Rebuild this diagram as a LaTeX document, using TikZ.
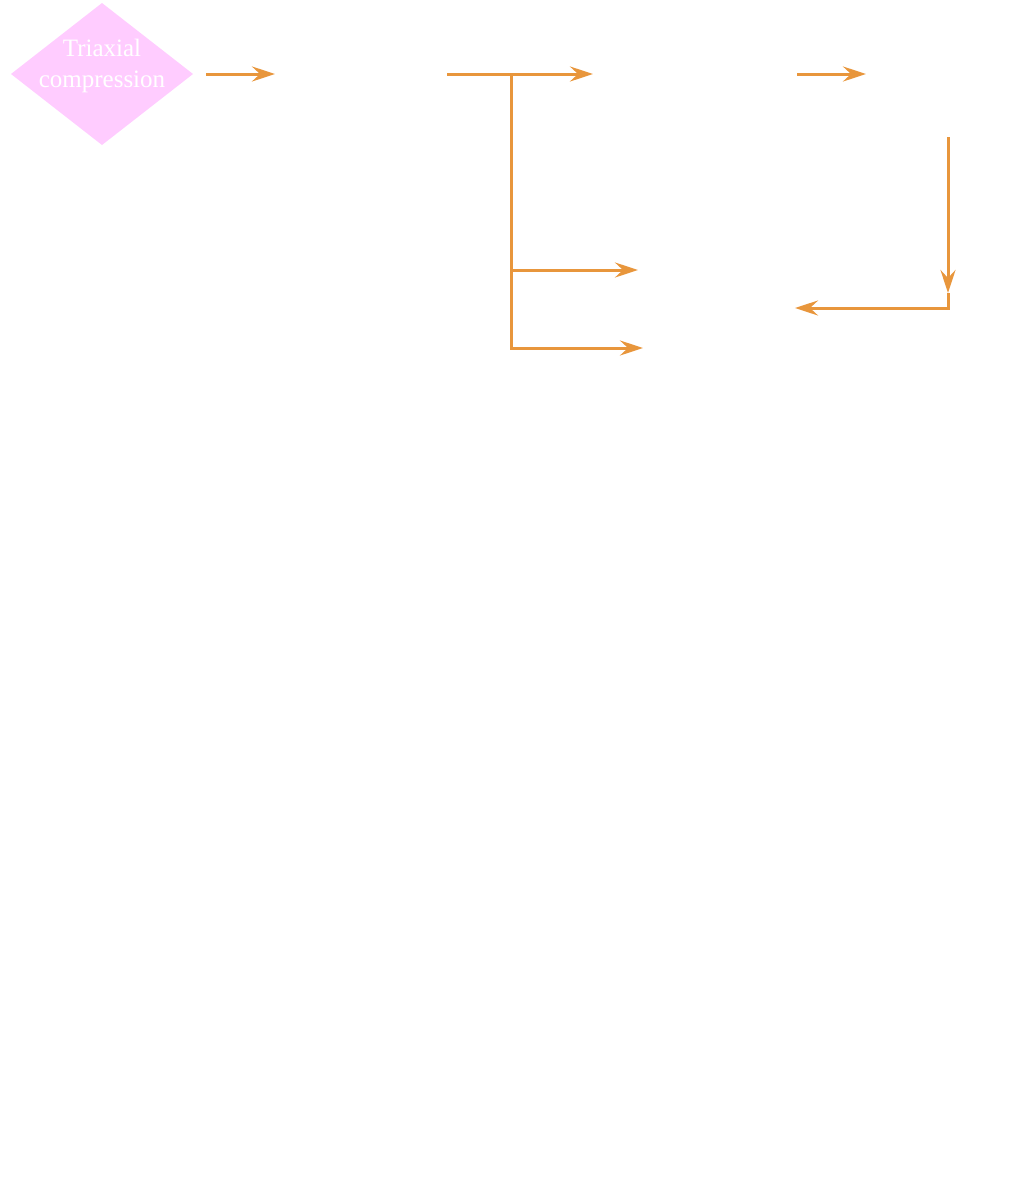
\documentclass[tikz,border=0pt]{standalone}
\usepackage{fontspec}
\setmainfont{Liberation Serif}
\usetikzlibrary{shapes.geometric,arrows.meta}
\definecolor{linkorange}{RGB}{232,150,60}
\definecolor{diamondpink}{RGB}{255,204,255}
\tikzset{
  decision/.style={diamond, fill=diamondpink, draw=none, inner sep=0pt, outer sep=0pt,
    minimum width=182pt, minimum height=142pt, aspect=1.28},
  decisiontext/.style={text=white, align=center, inner sep=0pt,
    font=\fontsize{25}{31}\selectfont},
  link/.style={draw=linkorange, line width=3pt,
    -{Stealth[length=23pt,width=15pt,inset=8pt]}},
  plain/.style={draw=linkorange, line width=3pt}
}
\begin{document}
\begin{tikzpicture}[x=1pt,y=-1pt]
\useasboundingbox (0,0) rectangle (1029,1181);
\node[decision] (tc) at (102,74) {};
\node[decisiontext] (tctext) at (102,66) {Triaxial\\compression};
% connector end points
\coordinate (a1s) at (206,74);
\coordinate (a1e) at (275,74);
\coordinate (a2s) at (447,74);
\coordinate (a2e) at (593,74);
\coordinate (br) at (511,74);
\coordinate (brm) at (511,270);
\coordinate (brb) at (511,348);
\coordinate (b1e) at (638,270);
\coordinate (b2e) at (643,348);
\coordinate (a3s) at (797,74);
\coordinate (a3e) at (866,74);
\coordinate (vs) at (948,137);
\coordinate (ve) at (948,293);
\coordinate (corner) at (948,308);
\coordinate (he) at (795,308);
\draw[link] (a1s) -- (a1e);
\draw[link] (a2s) -- (a2e);
\draw[link] (br) -- (brb) -- (b2e);
\draw[link] (brm) -- (b1e);
\draw[link] (a3s) -- (a3e);
\draw[link] (vs) -- (ve);
\draw[link] (ve) -- (corner) -- (he);
\end{tikzpicture}
\end{document}
